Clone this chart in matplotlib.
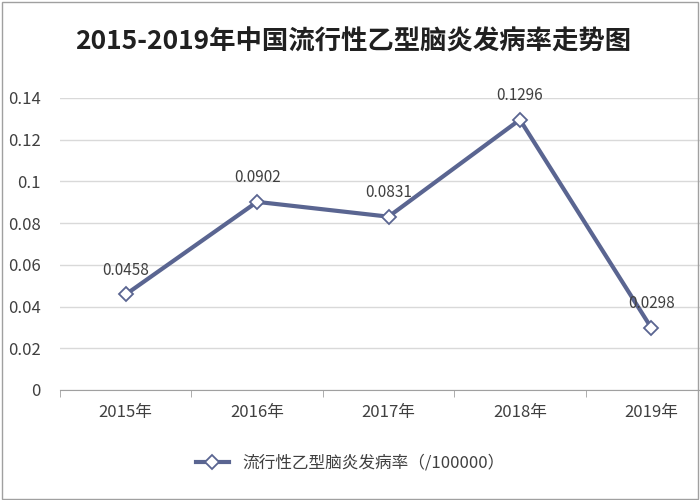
import matplotlib
matplotlib.use("Agg")
import matplotlib.pyplot as plt
from matplotlib.patches import Rectangle
from matplotlib import font_manager as fm

years = ["2015年", "2016年", "2017年", "2018年", "2019年"]
rates = [0.0458, 0.0902, 0.0831, 0.1296, 0.0298]
yticks = [0, 0.02, 0.04, 0.06, 0.08, 0.1, 0.12, 0.14]
ytick_labels = ["0", "0.02", "0.04", "0.06", "0.08", "0.1", "0.12", "0.14"]

names = sorted({f.name for f in fm.fontManager.ttflist})
cjk = [n for n in names if "CJK" in n]
pref = [n for n in ["Noto Sans CJK SC", "Noto Sans CJK JP", "Noto Sans CJK TC", "Noto Sans CJK KR"] if n in cjk] or cjk
plt.rcParams["font.family"] = (pref[:1] if pref else []) + ["DejaVu Sans"]
plt.rcParams["font.sans-serif"] = (pref[:1] if pref else []) + ["DejaVu Sans"]

fig = plt.figure(figsize=(7, 5), dpi=100)
fig.patches.append(Rectangle((0.003, 0.003), 0.994, 0.994, transform=fig.transFigure,
                             fill=False, edgecolor="#A0A0A0", linewidth=1))
ax = fig.add_axes([0.0857, 0.22, 0.9386, 0.584])
color = "#5A6591"
x = list(range(len(years)))
ax.plot(x, rates, color=color, linewidth=3, marker="D", markersize=7,
        markerfacecolor="white", markeredgecolor=color, markeredgewidth=1.3,
        label="流行性乙型脑炎发病率（/100000）")
for xi, v in zip(x, rates):
    ax.text(xi, v + 0.0075, f"{v:.4f}", ha="center", va="bottom", fontsize=11, color="#404040")
ax.set_xlim(-0.5, 4.5)
ax.set_ylim(0, 0.14)
ax.set_yticks(yticks)
ax.set_yticklabels(ytick_labels, fontsize=12, color="#404040")
ax.set_xticks(x)
ax.set_xticklabels(years, fontsize=12, color="#404040")
ax.set_xticks([-0.5, 0.5, 1.5, 2.5, 3.5, 4.5], minor=True)
ax.tick_params(axis="x", which="major", length=0, pad=10)
ax.tick_params(axis="x", which="minor", length=5, color="#A0A0A0")
ax.tick_params(axis="y", length=0, pad=14)
ax.grid(axis="y", color="#D9D9D9", linewidth=1)
for s in ["top", "right", "left"]:
    ax.spines[s].set_visible(False)
ax.spines["bottom"].set_color("#A0A0A0")
ax.set_axisbelow(True)
fig.text(0.505, 0.915, "2015-2019年中国流行性乙型脑炎发病率走势图", ha="center", va="center",
         fontsize=19, fontweight="bold", color="#202020")
fig.legend(loc="center", bbox_to_anchor=(0.5, 0.073), frameon=False, fontsize=12,
           labelcolor="#404040")
fig.savefig("out.png", dpi=100)
